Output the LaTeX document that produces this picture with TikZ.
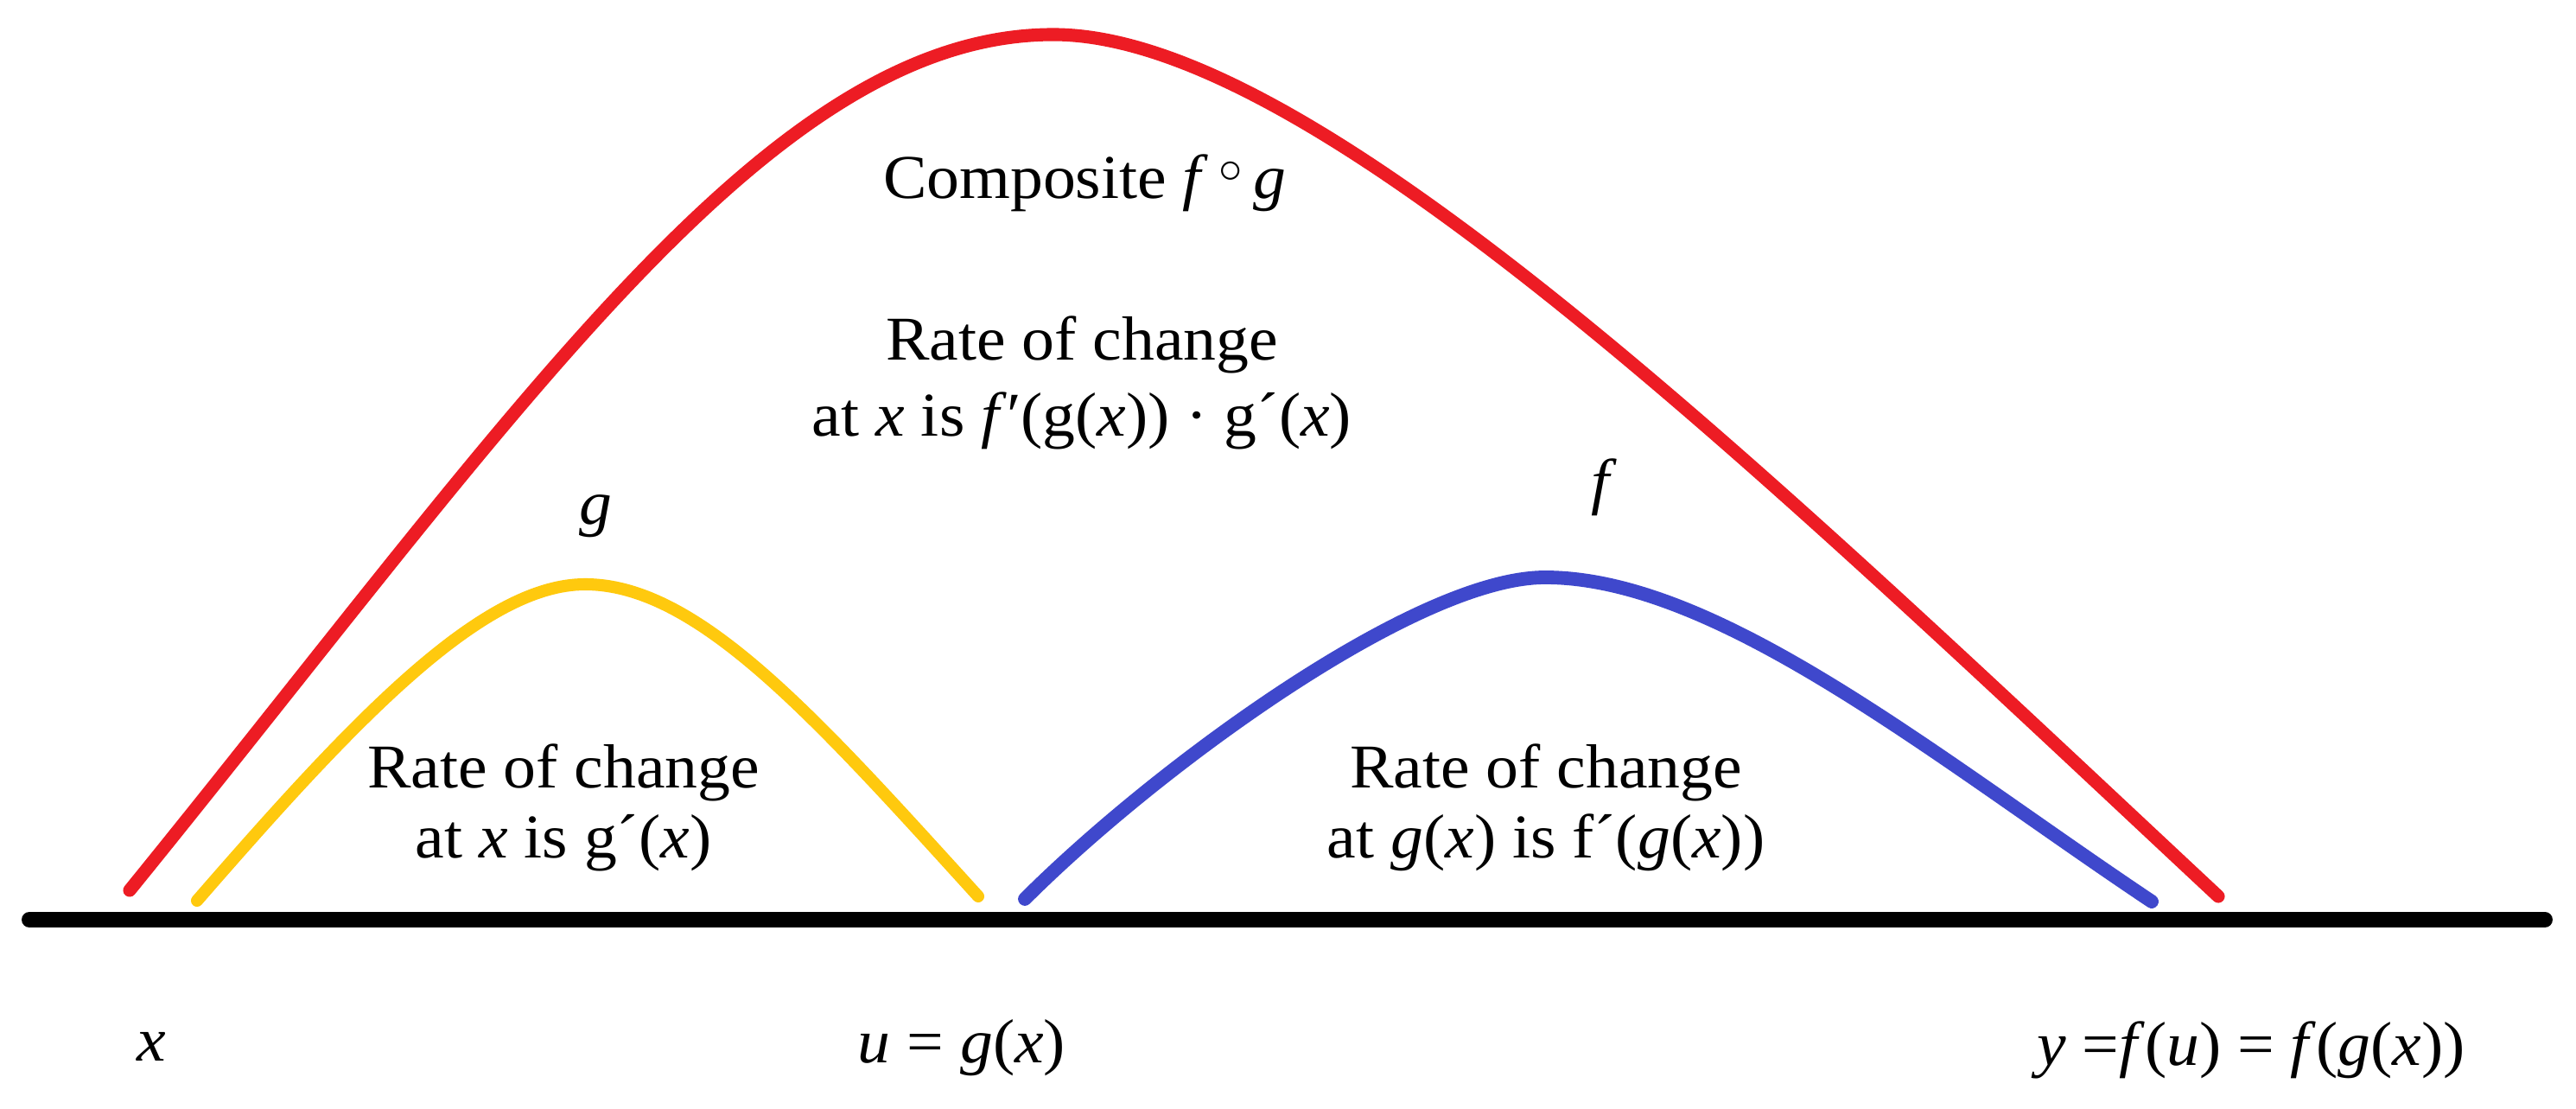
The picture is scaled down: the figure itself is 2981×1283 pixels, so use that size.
\documentclass[tikz,border=0pt]{standalone}
\usepackage{fontspec}
\setmainfont{Liberation Serif}[FakeStretch=1.05]
\definecolor{cRed}{RGB}{237,28,36}
\definecolor{cYel}{RGB}{255,201,14}
\definecolor{cBlu}{RGB}{63,72,204}
\begin{document}
\begin{tikzpicture}[x=0.01cm,y=-0.01cm,
  lbl/.style={anchor=base,inner sep=0pt,font=\fontsize{20.5}{24}\selectfont},
  arch/.style={line width=4.3pt,line cap=round,line join=round},
  axisline/.style={line width=5.1pt,line cap=round,black}]
\useasboundingbox (0,0) rectangle (2981,1283);
\fill[white] (0,0) rectangle (2981,1283);
% axis
\coordinate (axL) at (34,1064);
\coordinate (axR) at (2945,1064);
\draw[axisline] (axL) -- (axR);
% red composite arch
\coordinate (rS) at (150,1030);
\coordinate (rC1) at (600,476);
\coordinate (rC2) at (889,40);
\coordinate (rP) at (1219,40);
\coordinate (rC3) at (1519,40);
\coordinate (rC4) at (2040,545);
\coordinate (rE) at (2567,1037);
\draw[arch,cRed] (rS) .. controls (rC1) and (rC2) .. (rP) .. controls (rC3) and (rC4) .. (rE);
% yellow arch g
\coordinate (yS) at (228,1042);
\coordinate (yC1) at (408,835);
\coordinate (yC2) at (557,676);
\coordinate (yP) at (677,676);
\coordinate (yC3) at (807,676);
\coordinate (yC4) at (942,828);
\coordinate (yE) at (1132,1037);
\draw[arch,cYel,line width=4pt] (yS) .. controls (yC1) and (yC2) .. (yP) .. controls (yC3) and (yC4) .. (yE);
% blue arch f
\coordinate (bS) at (1186,1040);
\coordinate (bC1) at (1336,890);
\coordinate (bC2) at (1638,668);
\coordinate (bP) at (1788,668);
\coordinate (bC3) at (1988,668);
\coordinate (bC4) at (2240,876);
\coordinate (bE) at (2490,1043);
\draw[arch,cBlu,line width=4.5pt] (bS) .. controls (bC1) and (bC2) .. (bP) .. controls (bC3) and (bC4) .. (bE);
% texts
\node[lbl] (comp) at (1255,230) {Composite \textit{f}\,\raisebox{0.26em}{\scalebox{0.75}{$\circ$}}\,\textit{g}};
\node[lbl] (mid1) at (1252,417) {Rate of change};
\node[lbl] (mid2) at (1252,505) {at \textit{x} is \textit{f}′(g(\textit{x})) · g´(\textit{x})};
\node[lbl] (glbl) at (689,607) {\textit{g}};
\node[lbl] (flbl) at (1856,582) {\textit{f}};
\node[lbl] (yel1) at (652,912) {Rate of change};
\node[lbl] (yel2) at (652,993) {at \textit{x} is g´(\textit{x})};
\node[lbl] (blu1) at (1789,912) {Rate of change};
\node[lbl] (blu2) at (1789,993) {at \textit{g}(\textit{x}) is f´(\textit{g}(\textit{x}))};
\node[lbl] (xlbl) at (175,1228) {\textit{x}};
\node[lbl] (ulbl) at (1113,1230) {\textit{u} = \textit{g}(\textit{x})};
\node[lbl] (ylbl) at (2605,1233) {\textit{y} =\textit{f}(\textit{u}) = \textit{f}(\textit{g}(\textit{x}))};
\end{tikzpicture}
\end{document}
